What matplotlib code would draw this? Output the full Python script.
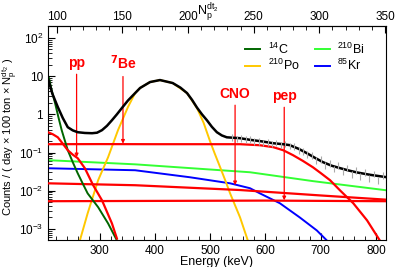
import matplotlib
matplotlib.use('Agg')
import matplotlib.pyplot as plt
from matplotlib.ticker import FixedLocator, MultipleLocator, NullFormatter, LogLocator

plt.rcParams['font.family'] = ['Liberation Sans', 'DejaVu Sans']
plt.rcParams['mathtext.default'] = 'regular'

# total fit (black)
total_e = [206, 214, 224, 233, 242, 251, 260, 273, 286, 295, 304, 313, 322, 331, 340, 351,
           364, 373, 391, 409, 432, 446, 458, 467, 476, 485, 494, 503, 512, 521, 530, 554,
           572, 594, 614, 632, 644, 660, 675, 690, 704, 720, 735, 750, 766, 790, 820]
total_v = [8.9, 3.5, 1.55, 0.8, 0.46, 0.38, 0.34, 0.325, 0.32, 0.33, 0.385, 0.5, 0.70, 1.0, 1.46, 2.3,
           3.6, 4.9, 7.0, 7.9, 6.6, 5.0, 3.6, 2.4, 1.5, 1.0, 0.70, 0.47, 0.34, 0.28, 0.25, 0.237,
           0.215, 0.195, 0.175, 0.165, 0.156, 0.125, 0.096, 0.072, 0.056, 0.045, 0.039, 0.034, 0.030, 0.026, 0.0225]

# pp (red)
pp_e = [206, 215, 224, 233, 242, 251, 260, 273, 288, 304, 322, 331]
pp_v = [0.34, 0.30, 0.25, 0.17, 0.115, 0.088, 0.071, 0.0387, 0.0139, 0.0056, 0.00139, 0.00056]

# 7Be (red)
be7_e = [206, 300, 400, 500, 554, 590, 614, 632, 650, 668, 686, 700, 717, 735, 759, 784, 807]
be7_v = [0.165, 0.166, 0.165, 0.165, 0.165, 0.155, 0.138, 0.115, 0.085, 0.06, 0.041, 0.029, 0.0188, 0.0102, 0.0047, 0.00167, 0.0005]

# CNO (red)
cno_e = [206, 364, 554, 700, 820]
cno_v = [0.0156, 0.0139, 0.0104, 0.0075, 0.0058]

# pep (red)
pep_e = [206, 400, 600, 820]
pep_v = [0.0053, 0.0054, 0.0055, 0.0053]

# 14C
c14_e = [208, 213, 219, 225, 231, 242, 251, 260, 269, 278, 297, 315, 331]
c14_v = [8.9, 4.2, 1.97, 0.85, 0.385, 0.115, 0.056, 0.0286, 0.0155, 0.0085, 0.0037, 0.00139, 0.0005]

# 210Po
po_e = [264, 278, 297, 315, 333, 351, 364, 373, 391, 409, 432, 458, 476, 488, 499, 508, 518, 527, 536, 554, 568]
po_v = [0.0005, 0.00255, 0.0188, 0.075, 0.385, 1.55, 3.6, 4.9, 7.0, 7.9, 6.6, 3.6, 1.46, 0.6, 0.21, 0.095, 0.041, 0.019, 0.0085, 0.0020, 0.0005]

# 210Bi
bi_e = [206, 364, 572, 686, 820]
bi_v = [0.063, 0.049, 0.0304, 0.0178, 0.0102]

# 85Kr
kr_e = [206, 364, 463, 536, 572, 590, 626, 662, 693, 711]
kr_v = [0.0387, 0.0343, 0.0225, 0.0156, 0.0116, 0.0085, 0.0047, 0.0020, 0.00091, 0.0005]

# measured spectrum (gray)
data_e = [540, 548, 556, 564, 572, 580, 588, 596, 604, 612, 620, 628, 636, 644, 652, 660, 668, 676,
          684, 692, 700, 708, 716, 724, 732, 740, 748, 756, 764, 772, 780, 788, 796, 804, 812, 818]
data_v = [0.25, 0.23, 0.24, 0.22, 0.22, 0.20, 0.20, 0.18, 0.19, 0.17, 0.18, 0.16, 0.17, 0.15, 0.145, 0.115, 0.11, 0.09,
          0.085, 0.062, 0.066, 0.047, 0.053, 0.038, 0.047, 0.032, 0.040, 0.027, 0.035, 0.024, 0.031, 0.021, 0.028, 0.019, 0.026, 0.019]

y_ticks = [1e-3, 1e-2, 1e-1, 1, 10, 100]
y_labels = ['$10^{-3}$', '$10^{-2}$', '$10^{-1}$', '1', '10', '$10^{2}$']
np_ticks = [100, 150, 200, 250, 300, 350]


def e2n(e):
    return 6.5 + 0.4207 * e


def n2e(n):
    return (n - 6.5) / 0.4207


fig = plt.figure(figsize=(3.99, 2.67), dpi=100)
ax = fig.add_axes([0.120, 0.101, 0.847, 0.802])

ax.errorbar(data_e, data_v, yerr=[0.2 * v for v in data_v], fmt='none', ecolor='#aaaaaa', elinewidth=0.8, zorder=6)

red = '#ff0000'
ax.plot(be7_e, be7_v, color=red, lw=1.6, zorder=3)
ax.plot(cno_e, cno_v, color=red, lw=1.6, zorder=3)
ax.plot(pep_e, pep_v, color=red, lw=1.6, zorder=3)
ax.plot(pp_e, pp_v, color=red, lw=1.6, zorder=4)
h_bi, = ax.plot(bi_e, bi_v, color='#33ff33', lw=1.4, zorder=2, label=r'$^{210}$Bi')
h_kr, = ax.plot(kr_e, kr_v, color='#0000ff', lw=1.4, zorder=2, label=r'$^{85}$Kr')
h_po, = ax.plot(po_e, po_v, color='#ffc800', lw=1.4, zorder=2, label=r'$^{210}$Po')
h_c14, = ax.plot(c14_e, c14_v, color='#006600', lw=1.4, zorder=3, label=r'$^{14}$C')
ax.plot(total_e, total_v, color='black', lw=1.8, zorder=5)

ax.set_yscale('log')
ax.set_xlim(206, 818)
ax.set_ylim(5.1e-4, 207)
ax.yaxis.set_major_locator(FixedLocator(y_ticks))
ax.set_yticklabels(y_labels)
ax.yaxis.set_minor_locator(LogLocator(subs=range(2, 10), numticks=20))
ax.yaxis.set_minor_formatter(NullFormatter())
ax.xaxis.set_major_locator(MultipleLocator(100))
ax.xaxis.set_minor_locator(MultipleLocator(20))
ax.tick_params(which='both', direction='in', labelsize=8.5)
ax.tick_params(which='major', length=5)
ax.tick_params(which='minor', length=3)
ax.set_xlabel('Energy (keV)', fontsize=9, labelpad=-0.3)
ax.set_ylabel(r'Counts / ( day $\times$ 100 ton $\times$ $N_{p}^{dt_{2}}$ )', fontsize=8)
ax.yaxis.set_label_coords(-0.082, 0.48)

top = ax.secondary_xaxis('top', functions=(e2n, n2e))
top.xaxis.set_major_locator(FixedLocator(np_ticks))
top.xaxis.set_minor_locator(MultipleLocator(10))
top.tick_params(which='both', direction='in', labelsize=8.5)
top.tick_params(which='major', length=5, pad=2)
top.tick_params(which='minor', length=3)
fig.text(0.521, 0.955, r'$N_{p}^{dt_{2}}$', fontsize=9, ha='center', va='center')

arrow = dict(arrowstyle='-|>', color=red, lw=0.9, shrinkA=1, shrinkB=0, mutation_scale=5)
ax.annotate('pp', xy=(258, 0.075), xytext=(258, 22), color=red, fontsize=10, fontweight='bold',
            ha='center', va='center', arrowprops=arrow)
ax.annotate(r'$^{\mathbf{7}}$Be', xy=(342, 0.17), xytext=(342, 22), color=red, fontsize=10, fontweight='bold',
            ha='center', va='center', arrowprops=arrow)
ax.annotate('CNO', xy=(545, 0.0139), xytext=(545, 3.4), color=red, fontsize=10, fontweight='bold',
            ha='center', va='center', arrowprops=arrow)
ax.annotate('pep', xy=(634, 0.0056), xytext=(634, 3.0), color=red, fontsize=10, fontweight='bold',
            ha='center', va='center', arrowprops=arrow)

ax.legend(handles=[h_c14, h_po, h_bi, h_kr], ncol=2, frameon=False, fontsize=9,
          loc='upper right', bbox_to_anchor=(0.97, 0.98), handlelength=1.2, handletextpad=0.6,
          columnspacing=1.2, labelspacing=0.1)

fig.savefig('out.png', dpi=100)
